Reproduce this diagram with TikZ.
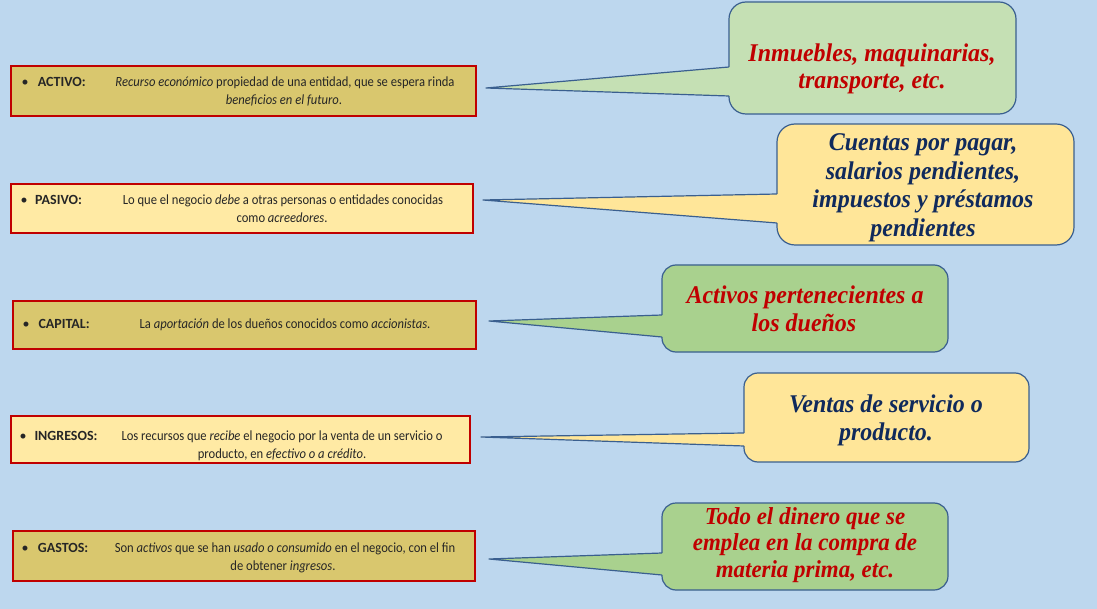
\documentclass[tikz,border=0pt]{standalone}
\usepackage{fontspec}
\setmainfont{Carlito}
\newfontfamily\callfont{Liberation Serif}
\usetikzlibrary{calc}
\definecolor{bgblue}{HTML}{BDD7EE}
\definecolor{olivefill}{HTML}{D9C76E}
\definecolor{paleyellow}{HTML}{FFEAA4}
\definecolor{boxred}{HTML}{C00000}
\definecolor{greenA}{HTML}{C5E0B4}
\definecolor{greenB}{HTML}{A9D18E}
\definecolor{yellowC}{HTML}{FFE699}
\definecolor{redtext}{HTML}{C00000}
\definecolor{navytext}{HTML}{102A5C}
\definecolor{txtgray}{HTML}{262626}
\definecolor{callline}{HTML}{3A5F8F}
\newcommand{\dsc}[1]{\scalebox{0.9}[1]{#1}}
\newcommand{\callsc}[1]{\scalebox{0.94}[1]{#1}}
\tikzset{
  defbox/.style={draw=boxred, line width=2.3pt, inner sep=0pt},
  deftxt/.style={inner sep=0pt, anchor=base, text=txtgray, font=\fontsize{14}{17}\selectfont},
  labtxt/.style={inner sep=0pt, anchor=base west, text=txtgray, font=\fontsize{14}{17}\selectfont\bfseries},
  bul/.style={inner sep=0pt, anchor=base, text=txtgray, font=\fontsize{14}{17}\selectfont},
  callbox/.style={draw=callline, line width=1.2pt, inner sep=0pt},
  pointer/.style={draw=callline, line width=1.2pt, line join=round},
  ctxt/.style={inner sep=0pt, anchor=base, font=\fontsize{25.5}{28}\callfont\bfseries\itshape},
  ctxtsmall/.style={inner sep=0pt, anchor=base, font=\fontsize{24.4}{26}\callfont\bfseries\itshape}
}
\begin{document}
\begin{tikzpicture}[x=1pt,y=-1pt]
\useasboundingbox (0,0) rectangle (1097,609);
\fill[bgblue] (0,0) rectangle (1097,609);

% ---------- left definition boxes ----------
\node[defbox, fill=olivefill, minimum width=465pt, minimum height=50pt] (b1) at (243.5,91) {};
\node[defbox, fill=paleyellow, minimum width=462pt, minimum height=49pt] (b2) at (242,208.5) {};
\node[defbox, fill=olivefill, minimum width=463pt, minimum height=48pt] (b3) at (244.5,325) {};
\node[defbox, fill=paleyellow, minimum width=459pt, minimum height=47pt] (b4) at (240.5,439.5) {};
\node[defbox, fill=olivefill, minimum width=462pt, minimum height=50pt] (b5) at (244,556) {};

% ACTIVO
\node[bul] (b1bul) at (25,87) {•};
\node[labtxt] (b1lab) at (37.7,87) {ACTIVO:};
\node[deftxt] (b1t1) at (285,87) {\dsc{\textit{Recurso económico} propiedad de una entidad, que se espera rinda}};
\node[deftxt] (b1t2) at (284,105) {\dsc{\textit{beneficios en el futuro}.}};
% PASIVO
\node[bul] (b2bul) at (24,205) {•};
\node[labtxt] (b2lab) at (35,205) {PASIVO:};
\node[deftxt] (b2t1) at (283,205) {\dsc{Lo que el negocio \textit{debe} a otras personas o entidades conocidas}};
\node[deftxt] (b2t2) at (282,222.5) {\dsc{como \textit{acreedores}.}};
% CAPITAL
\node[bul] (b3bul) at (26,328.5) {•};
\node[labtxt] (b3lab) at (38.3,328.5) {CAPITAL:};
\node[deftxt] (b3t1) at (285,328.5) {\dsc{La \textit{aportación} de los dueños conocidos como \textit{accionistas}.}};
% INGRESOS
\node[bul] (b4bul) at (23,440) {•};
\node[labtxt] (b4lab) at (34.3,440) {INGRESOS:};
\node[deftxt] (b4t1) at (282,440) {\dsc{Los recursos que \textit{recibe} el negocio por la venta de un servicio o}};
\node[deftxt] (b4t2) at (282,458) {\dsc{producto, en \textit{efectivo o a crédito}.}};
% GASTOS
\node[bul] (b5bul) at (25,552.5) {•};
\node[labtxt] (b5lab) at (37.7,552.5) {GASTOS:};
\node[deftxt] (b5t1) at (285,552.5) {\dsc{Son \textit{activos} que se han \textit{usado o consumido} en el negocio, con el fin}};
\node[deftxt] (b5t2) at (283,570) {\dsc{de obtener \textit{ingresos}.}};

% ---------- callouts ----------
% C1
\node[callbox, fill=greenA, rounded corners=17pt, minimum width=287pt, minimum height=112pt] (c1) at (872.5,58) {};
\coordinate (t1) at (486,88);
\coordinate (c1u) at (729,67);
\coordinate (c1d) at (729,96);
\fill[greenA] ([xshift=1.6pt]c1u) -- (t1) -- ([xshift=1.6pt]c1d) -- cycle;
\draw[pointer] (c1u) -- (t1) -- (c1d);
\node[ctxt, text=redtext] (c1l1) at (872,62) {\callsc{Inmuebles, maquinarias,}};
\node[ctxt, text=redtext] (c1l2) at (872,88.5) {\callsc{transporte, etc.}};

% C2
\node[callbox, fill=yellowC, rounded corners=18pt, minimum width=297pt, minimum height=121pt] (c2) at (925.5,184.5) {};
\coordinate (t2) at (483,200);
\coordinate (c2u) at (777,194);
\coordinate (c2d) at (777,223);
\fill[yellowC] ([xshift=1.6pt]c2u) -- (t2) -- ([xshift=1.6pt]c2d) -- cycle;
\draw[pointer] (c2u) -- (t2) -- (c2d);
\node[ctxt, text=navytext] (c2l1) at (923,151) {\callsc{Cuentas por pagar,}};
\node[ctxt, text=navytext] (c2l2) at (923,179.5) {\callsc{salarios pendientes,}};
\node[ctxt, text=navytext] (c2l3) at (923,208) {\callsc{impuestos y préstamos}};
\node[ctxt, text=navytext] (c2l4) at (923,236.5) {\callsc{pendientes}};

% C3
\node[callbox, fill=greenB, rounded corners=14pt, minimum width=286pt, minimum height=87pt] (c3) at (805,308.5) {};
\coordinate (t3) at (489,321);
\coordinate (c3u) at (662,315);
\coordinate (c3d) at (662,337);
\fill[greenB] ([xshift=1.6pt]c3u) -- (t3) -- ([xshift=1.6pt]c3d) -- cycle;
\draw[pointer] (c3u) -- (t3) -- (c3d);
\node[ctxt, text=redtext] (c3l1) at (805,303.5) {\callsc{Activos pertenecientes a}};
\node[ctxt, text=redtext] (c3l2) at (804,332) {\callsc{los dueños}};

% C4
\node[callbox, fill=yellowC, rounded corners=14pt, minimum width=285pt, minimum height=89pt] (c4) at (886.5,417.5) {};
\coordinate (t4) at (481,437);
\coordinate (c4u) at (744,433);
\coordinate (c4d) at (744,446);
\fill[yellowC] ([xshift=1.6pt]c4u) -- (t4) -- ([xshift=1.6pt]c4d) -- cycle;
\draw[pointer] (c4u) -- (t4) -- (c4d);
\node[ctxt, text=navytext] (c4l1) at (886,412) {\callsc{Ventas de servicio o}};
\node[ctxt, text=navytext] (c4l2) at (886,440) {\callsc{producto.}};

% C5
\node[callbox, fill=greenB, rounded corners=14pt, minimum width=286pt, minimum height=87pt] (c5) at (805,546.5) {};
\coordinate (t5) at (489,559);
\coordinate (c5u) at (662,553);
\coordinate (c5d) at (662,575);
\fill[greenB] ([xshift=1.6pt]c5u) -- (t5) -- ([xshift=1.6pt]c5d) -- cycle;
\draw[pointer] (c5u) -- (t5) -- (c5d);
\node[ctxtsmall, text=redtext] (c5l1) at (805,524) {\callsc{Todo el dinero que se}};
\node[ctxtsmall, text=redtext] (c5l2) at (805,550.5) {\callsc{emplea en la compra de}};
\node[ctxtsmall, text=redtext] (c5l3) at (805,577) {\callsc{materia prima, etc.}};
\end{tikzpicture}
\end{document}
